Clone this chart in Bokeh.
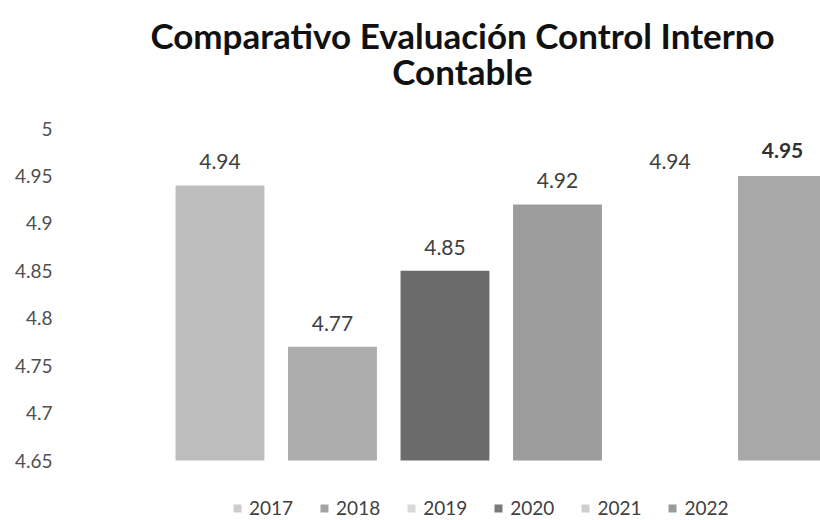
from bokeh.plotting import figure
from bokeh.models import ColumnDataSource, FixedTicker, Range1d, Legend, LegendItem
from bokeh.core.properties import value
from bokeh.embed import file_html
from bokeh.resources import INLINE

title_lines = ["Comparativo Evaluación Control Interno", "Contable"]
years = ["2017", "2018", "2019", "2020", "2021", "2022"]
scores = [4.94, 4.77, 4.85, 4.92, 4.94, 4.95]
labels = ["4.94", "4.77", "4.85", "4.92", "4.94", "4.95"]
colors = ["#bdbdbd", "#adadad", "#6b6b6b", "#9c9c9c", "#ffffff", "#a8a8a8"]
legend_colors = ["#cdcdcd", "#a4a4a4", "#d8d8d8", "#7a7a7a", "#cfcfcf", "#9a9a9a"]
ticks = [4.65, 4.7, 4.75, 4.8, 4.85, 4.9, 4.95, 5.0]
tick_labels = ["4.65", "4.7", "4.75", "4.8", "4.85", "4.9", "4.95", "5"]
base = 4.65

FONT = "Lato"
W, H = 820, 520
LEFT = 100
# vertical scale: axis value 5.0 at 128px from top, 4.65 at 460px
px_per_unit = (460 - 128) / (5.0 - 4.65)
y_top = 5.0 + 128 / px_per_unit
y_bot = 5.0 - (H - 128) / px_per_unit
x_start, x_end = -1.062, 5.338
px_per_x = (W - LEFT) / (x_end - x_start)

p = figure(width=W, height=H, output_backend="svg", toolbar_location=None,
           x_range=Range1d(x_start, x_end), y_range=Range1d(y_bot, y_top),
           min_border_left=LEFT, min_border_right=0, min_border_bottom=0, min_border_top=0,
           outline_line_color=None)

p.xaxis.visible = False
p.xgrid.visible = False
p.ygrid.visible = False
p.yaxis.axis_line_color = None
p.yaxis.major_tick_line_color = None
p.yaxis.minor_tick_line_color = None
p.yaxis.ticker = FixedTicker(ticks=ticks)
p.yaxis.major_label_overrides = {t: l for t, l in zip(ticks, tick_labels)}
p.yaxis.major_label_text_font = FONT
p.yaxis.major_label_text_font_size = "19px"
p.yaxis.major_label_text_color = "#505050"
p.yaxis.major_label_standoff = 42

# title (two centred lines above the bars)
title_cx = x_start + (462 - LEFT) / px_per_x
title_ys = [5.0 + (128 - 34) / px_per_unit, 5.0 + (128 - 70) / px_per_unit]
p.text(x=[title_cx, title_cx], y=title_ys, text=title_lines, text_align="center",
       text_baseline="middle", text_font=value(FONT), text_font_style="bold",
       text_font_size="35px", text_color="#111111")

items = []
for i, (yr, v, c, lc) in enumerate(zip(years, scores, colors, legend_colors)):
    src = ColumnDataSource(dict(x=[i], top=[v], bottom=[base]))
    p.vbar(x="x", top="top", bottom="bottom", width=0.79, source=src,
           fill_color=c, line_color=None)
    dsrc = ColumnDataSource(dict(x=[i], top=[base], bottom=[base]))
    dummy = p.vbar(x="x", top="top", bottom="bottom", width=0.79, source=dsrc,
                   fill_color=lc, line_color=None)
    items.append(LegendItem(label=yr, renderers=[dummy]))

normal_idx = [i for i in range(len(years)) if i != 5]
p.text(x=[i for i in normal_idx], y=[scores[i] for i in normal_idx],
       text=[labels[i] for i in normal_idx], text_align="center", text_baseline="bottom",
       y_offset=-16, text_font=value(FONT), text_font_size="21px", text_color="#404040")
p.text(x=[5], y=[scores[5]], text=[labels[5]], text_align="center", text_baseline="bottom",
       y_offset=-18, text_font=value(FONT), text_font_size="21px", text_font_style="bold",
       text_color="#303030")

legend = Legend(items=items, orientation="horizontal", location=(132, 1),
                label_text_font=FONT, label_text_font_size="19px", label_text_color="#404040",
                glyph_width=10, glyph_height=10, spacing=26, label_standoff=7,
                border_line_color=None, background_fill_alpha=0, padding=2, margin=0)
p.add_layout(legend, "center")

open("out.html", "w").write(file_html(p, INLINE))
